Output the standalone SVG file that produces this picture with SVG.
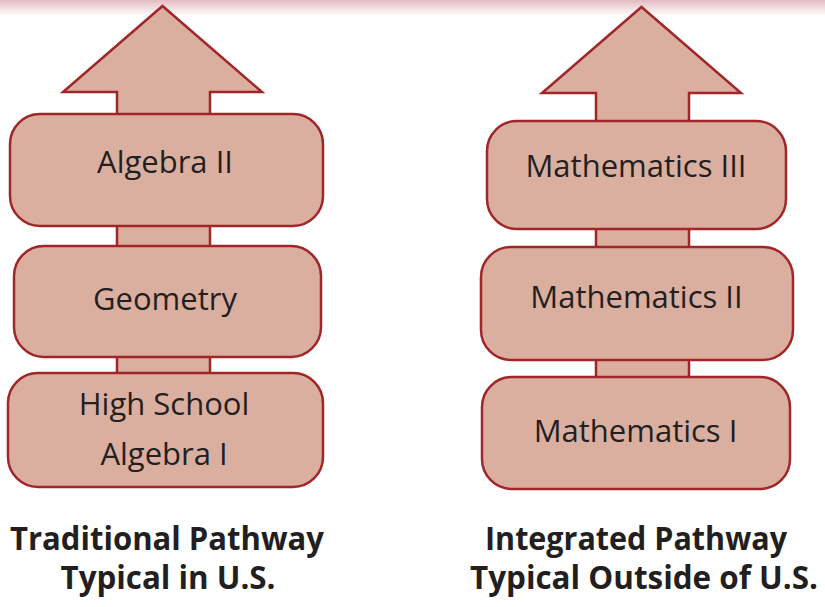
<svg xmlns="http://www.w3.org/2000/svg" width="825" height="607" viewBox="0 0 825 607">
<defs>
<linearGradient id="band" x1="0" y1="0" x2="0" y2="1">
<stop offset="0" stop-color="#e3bcc2"/>
<stop offset="1" stop-color="#ffffff"/>
</linearGradient>
<style>
.box{fill:#dbafa0;stroke:#a1262a;stroke-width:2.5}
.arrow{fill:#dbafa0;stroke:#a1262a;stroke-width:2.5;stroke-linejoin:miter}
.lbl{font-family:"Open Sans","Noto Sans","Liberation Sans",sans-serif;font-size:31px;fill:#231f20;text-anchor:middle}
.cap{font-family:"Open Sans","Noto Sans","Liberation Sans",sans-serif;font-size:31.5px;font-weight:bold;fill:#231f20;text-anchor:middle}
</style>
</defs>
<rect x="0" y="0" width="825" height="607" fill="#ffffff"/>
<rect x="0" y="0" width="825" height="16" fill="url(#band)"/>
<g id="connectors">
<polygon class="arrow" points="162.5,6 262,92 210,92 210,480 117,480 117,92 63,92"/>
<polygon class="arrow" points="641.5,7 741,93 689,93 689,480 596,480 596,93 542,93"/>
</g>
<g id="algebra2">
<rect class="box" x="10" y="114" width="313" height="112" rx="30"/>
<text class="lbl" x="165" y="173">Algebra II</text>
</g>
<g id="geometry">
<rect class="box" x="14" y="246" width="307" height="111" rx="30"/>
<text class="lbl" x="165" y="310">Geometry</text>
</g>
<g id="algebra1">
<rect class="box" x="8" y="373" width="315" height="114" rx="30"/>
<text class="lbl" x="164" y="415">High School</text>
<text class="lbl" x="164" y="465">Algebra I</text>
</g>
<g id="math3">
<rect class="box" x="487" y="121" width="299" height="108" rx="30"/>
<text class="lbl" x="636" y="177">Mathematics III</text>
</g>
<g id="math2">
<rect class="box" x="481" y="247" width="312" height="113" rx="30"/>
<text class="lbl" x="636.5" y="308">Mathematics II</text>
</g>
<g id="math1">
<rect class="box" x="482" y="377" width="308" height="112" rx="30"/>
<text class="lbl" x="635.5" y="442">Mathematics I</text>
</g>
<g id="caption-left">
<text class="cap" x="167" y="550" textLength="314" lengthAdjust="spacingAndGlyphs">Traditional Pathway</text>
<text class="cap" x="168" y="589" textLength="215" lengthAdjust="spacingAndGlyphs">Typical in U.S.</text>
</g>
<g id="caption-right">
<text class="cap" x="636" y="550" textLength="302" lengthAdjust="spacingAndGlyphs">Integrated Pathway</text>
<text class="cap" x="644" y="589" textLength="348" lengthAdjust="spacingAndGlyphs">Typical Outside of U.S.</text>
</g>
</svg>
